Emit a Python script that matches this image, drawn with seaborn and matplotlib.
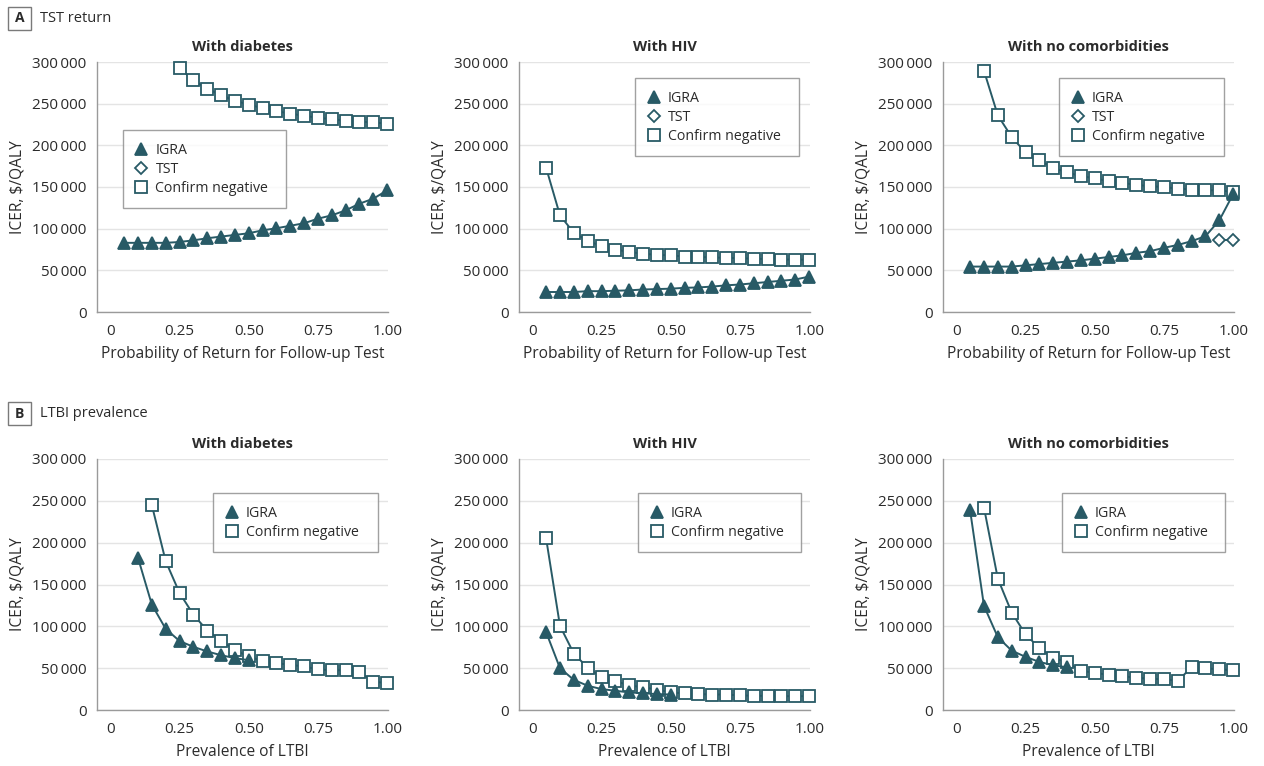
import matplotlib

matplotlib.use("Agg")
import matplotlib.pyplot as plt
import seaborn as sns
from matplotlib.lines import Line2D
from matplotlib.patches import Rectangle
from matplotlib.ticker import FuncFormatter

TEAL = "#285a66"
GRID = "#e4e4e4"
SPINE = "#9a9a9a"
TEXT = "#2b2b2b"

steps = [0.05, 0.10, 0.15, 0.20, 0.25, 0.30, 0.35, 0.40, 0.45, 0.50,
         0.55, 0.60, 0.65, 0.70, 0.75, 0.80, 0.85, 0.90, 0.95, 1.00]

# A: probability of return for follow-up test
a_diabetes_igra = [83000, 83000, 83000, 83000, 84000, 86000, 88500, 90500, 92500, 94500,
                   98000, 100500, 103500, 106500, 112000, 116000, 122000, 130000, 136000, 146000]
a_diabetes_confirm = [293000, 278000, 268000, 260000, 253500, 249000, 244500, 241000,
                      238000, 235500, 233000, 231500, 229500, 228500, 227500, 226000]  # from 0.25

a_hiv_igra = [24000, 24000, 24000, 25000, 25000, 25500, 26000, 27000, 27500, 28000,
              29000, 29500, 30500, 32000, 33000, 34500, 36000, 37500, 39000, 42500]
a_hiv_confirm = [173000, 116000, 95000, 85500, 79000, 75000, 72000, 70000, 68500, 68000,
                 66500, 66000, 65500, 65000, 64500, 64000, 63500, 63000, 63000, 62500]

a_none_igra = [54500, 54500, 54500, 54500, 56000, 57500, 59000, 60500, 62000, 64000,
               66000, 68000, 71000, 73000, 77000, 80500, 85000, 91000, 110000, 141500]
a_none_tst = [87000, 87000]  # 0.95, 1.00
a_none_confirm = [289500, 236000, 210000, 191500, 182000, 173000, 167500, 163000, 160500,
                  157000, 155000, 152500, 151000, 150000, 148000, 147000, 146000, 146000,
                  144000]  # from 0.10

# B: LTBI prevalence
b_diabetes_igra = [182000, 126000, 97000, 82500, 75500, 70000, 65500, 62000, 59500]  # 0.10-0.50
b_diabetes_confirm = [245000, 178000, 140000, 114000, 95000, 83000, 71500, 64000, 58500,
                      56000, 54000, 52000, 48500, 47500, 47500, 45500, 33500, 32500]  # from 0.15

b_hiv_igra = [93000, 50000, 36000, 29000, 25000, 23000, 21000, 20000, 19000, 18500]  # 0.05-0.50
b_hiv_confirm = [205000, 100500, 67500, 50500, 39500, 34500, 29500, 27000, 24500, 21000,
                 20000, 19000, 18500, 18500, 17500, 17000, 17000, 16500, 16500, 16500]

b_none_igra = [238500, 124500, 87000, 71000, 63500, 57500, 53500, 51000]  # 0.05-0.40
b_none_confirm = [242000, 157000, 116500, 90500, 74000, 62500, 57000, 47000, 44500, 42000,
                  40500, 38500, 37500, 36500, 35000, 51000, 50000, 48500, 47500]  # from 0.10

y_ticks = [0, 50000, 100000, 150000, 200000, 250000, 300000]
x_ticks = [0, 0.25, 0.50, 0.75, 1.00]
x_tick_labels = ["0", "0.25", "0.50", "0.75", "1.00"]

STYLES = {
    "IGRA": dict(marker="^", markersize=9, markerfacecolor=TEAL),
    "TST": dict(marker="D", markersize=6.5, markerfacecolor="white"),
    "Confirm negative": dict(marker="s", markersize=8, markerfacecolor="white"),
}

sns.set_style("white")
plt.rcParams["font.family"] = ["Open Sans", "DejaVu Sans"]
plt.rcParams["text.color"] = TEXT
plt.rcParams["axes.labelcolor"] = TEXT


def draw_panel(ax, title, xlabel, series, legend_labels, legend_box):
    # confirm negative goes first so the triangles sit on top
    for label, xs, ys in series:
        sns.lineplot(
            x=xs,
            y=ys,
            ax=ax,
            color=TEAL,
            linewidth=1.4,
            markeredgecolor=TEAL,
            markeredgewidth=1.3,
            clip_on=False,
            zorder=3,
            **STYLES[label],
        )

    ax.set_xlim(-0.048, 1.003)
    ax.set_ylim(0, 300000)
    ax.set_xticks(x_ticks)
    ax.set_xticklabels(x_tick_labels)
    ax.set_yticks(y_ticks)
    ax.yaxis.set_major_formatter(FuncFormatter(lambda v, p: f"{int(v):,}".replace(",", "\u2009")))
    ax.tick_params(axis="both", labelsize=11, labelcolor=TEXT, length=4, width=1, pad=3.5)
    ax.tick_params(axis="x", length=5, color=SPINE)
    ax.tick_params(axis="y", color=SPINE)
    ax.yaxis.grid(True, color=GRID, linewidth=1)
    ax.set_axisbelow(True)
    for side in ["top", "right"]:
        ax.spines[side].set_visible(False)
    for side in ["left", "bottom"]:
        ax.spines[side].set_color(SPINE)
        ax.spines[side].set_linewidth(1)

    ax.set_title(title, fontsize=10.5, fontweight="bold", pad=8)
    ax.set_xlabel(xlabel, fontsize=11.2, labelpad=5)
    ax.set_ylabel("ICER, $/QALY", fontsize=11.2, labelpad=5)

    handles = [
        Line2D([], [], linestyle="none", color=TEAL, markeredgecolor=TEAL,
               markeredgewidth=1.3, **STYLES[lab])
        for lab in legend_labels
    ]
    x0, w, top = legend_box
    leg = ax.legend(
        handles,
        legend_labels,
        loc="upper left",
        bbox_to_anchor=(x0, 0, w, top),
        mode="expand",
        borderaxespad=0,
        frameon=True,
        fancybox=False,
        edgecolor="#8a8a8a",
        fontsize=10.2,
        handlelength=0.8,
        handletextpad=0.6,
        borderpad=0.9,
        labelspacing=0.28,
    )
    leg.get_frame().set_linewidth(1)
    for t in leg.get_texts():
        t.set_color(TEXT)


fig = plt.figure(figsize=(12.64, 7.66), dpi=100)
W, H = 1264, 766
lefts = [97, 519, 943]
rows = [(62, 312), (459, 710)]

axes = [[fig.add_axes([l / W, 1 - b / H, 291 / W, (b - t) / H]) for l in lefts] for t, b in rows]

xlab_a = "Probability of Return for Follow-up Test"
xlab_b = "Prevalence of LTBI"
three = ["IGRA", "TST", "Confirm negative"]
two = ["IGRA", "Confirm negative"]

draw_panel(axes[0][0], "With diabetes", xlab_a,
           [("Confirm negative", steps[4:], a_diabetes_confirm), ("IGRA", steps, a_diabetes_igra)],
           three, (0.089, 0.561, 0.728))
draw_panel(axes[0][1], "With HIV", xlab_a,
           [("Confirm negative", steps, a_hiv_confirm), ("IGRA", steps, a_hiv_igra)],
           three, (0.40, 0.562, 0.936))
draw_panel(axes[0][2], "With no comorbidities", xlab_a,
           [("Confirm negative", steps[1:], a_none_confirm), ("TST", steps[18:], a_none_tst),
            ("IGRA", steps, a_none_igra)],
           three, (0.40, 0.564, 0.936))
draw_panel(axes[1][0], "With diabetes", xlab_b,
           [("Confirm negative", steps[2:], b_diabetes_confirm), ("IGRA", steps[1:10], b_diabetes_igra)],
           two, (0.40, 0.565, 0.865))
draw_panel(axes[1][1], "With HIV", xlab_b,
           [("Confirm negative", steps, b_hiv_confirm), ("IGRA", steps[:10], b_hiv_igra)],
           two, (0.41, 0.56, 0.865))
draw_panel(axes[1][2], "With no comorbidities", xlab_b,
           [("Confirm negative", steps[1:], b_none_confirm), ("IGRA", steps[:8], b_none_igra)],
           two, (0.41, 0.56, 0.865))

# panel letters
for letter, text, cy in [("A", "TST return", 18.5), ("B", "LTBI prevalence", 413.5)]:
    fig.add_artist(Rectangle((8 / W, 1 - (cy + 11.5) / H), 23 / W, 23 / H,
                             transform=fig.transFigure, fill=False, ec="#7a7a7a", lw=1))
    fig.text(19.5 / W, 1 - cy / H, letter, ha="center", va="center", fontsize=10, fontweight="bold")
    fig.text(40 / W, 1 - cy / H, text, ha="left", va="center", fontsize=10.5)

fig.savefig("out.png", dpi=100)
